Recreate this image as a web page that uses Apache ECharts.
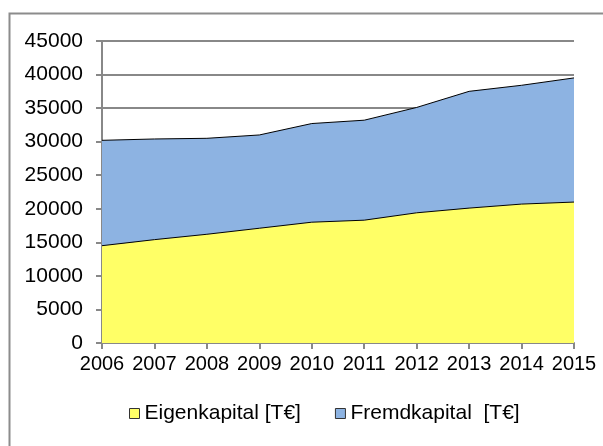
<!DOCTYPE html>
<html>
<head>
<meta charset="utf-8">
<script src="https://cdn.jsdelivr.net/npm/echarts@6/dist/echarts.min.js"></script>
<style>
  html, body { margin: 0; padding: 0; background: #fff; }
  #chart { width: 603px; height: 446px; }
</style>
</head>
<body>
<div id="chart"></div>
<script>
  // Jahre und Werte
  var years = ['2006', '2007', '2008', '2009', '2010', '2011', '2012', '2013', '2014', '2015'];
  var eigenkapital = [14500, 15400, 16200, 17100, 18000, 18300, 19400, 20100, 20700, 21000];
  var fremdkapital = [15700, 15000, 14300, 13900, 14700, 14900, 15700, 17400, 17700, 18500];
  var yTicks = { min: 0, max: 45000, interval: 5000 };

  var font = 'Liberation Sans, Arial, sans-serif';
  var chart = echarts.init(document.getElementById('chart'));

  chart.setOption({
    animation: false,
    graphic: [{
      type: 'rect',
      left: 7, top: 11,
      shape: { width: 640, height: 480 },
      style: { fill: 'none', stroke: '#8c8c8c', lineWidth: 2 },
      silent: true
    }],
    legend: {
      bottom: 17,
      left: 124,
      itemWidth: 10,
      itemHeight: 10,
      itemGap: 34,
      icon: 'rect',
      textStyle: { fontFamily: font, fontSize: 21, color: '#000' },
      data: [
        { name: 'Eigenkapital [T€]', itemStyle: { borderColor: '#333', borderWidth: 1 } },
        { name: 'Fremdkapital  [T€]', itemStyle: { borderColor: '#333', borderWidth: 1 } }
      ]
    },
    grid: { left: 102, right: 29, top: 41, bottom: 103, containLabel: false },
    xAxis: {
      type: 'category',
      boundaryGap: false,
      data: years,
      axisLine: { lineStyle: { color: '#888', width: 2 } },
      axisTick: { show: true, length: 6, lineStyle: { color: '#888', width: 2 } },
      axisLabel: { color: '#000', fontFamily: font, fontSize: 20, margin: 11, interval: 0 }
    },
    yAxis: {
      type: 'value',
      min: yTicks.min, max: yTicks.max, interval: yTicks.interval,
      axisLine: { show: true, lineStyle: { color: '#888', width: 2 } },
      axisTick: { show: true, length: 6, lineStyle: { color: '#888', width: 2 } },
      splitLine: { lineStyle: { color: '#888', width: 2 } },
      axisLabel: {
        color: '#000', fontFamily: font, fontSize: 21, margin: 19,
        formatter: function (v) { return String(v); }
      }
    },
    series: [
      {
        name: 'Eigenkapital [T€]',
        type: 'line',
        stack: 'kapital',
        data: eigenkapital,
        symbol: 'none',
        lineStyle: { color: '#000', width: 1 },
        itemStyle: { color: '#ffff66' },
        areaStyle: { color: '#ffff66', opacity: 1 }
      },
      {
        name: 'Fremdkapital  [T€]',
        type: 'line',
        stack: 'kapital',
        data: fremdkapital,
        symbol: 'none',
        lineStyle: { color: '#000', width: 1 },
        itemStyle: { color: '#8db3e2' },
        areaStyle: { color: '#8db3e2', opacity: 1 }
      }
    ]
  });
</script>
</body>
</html>
